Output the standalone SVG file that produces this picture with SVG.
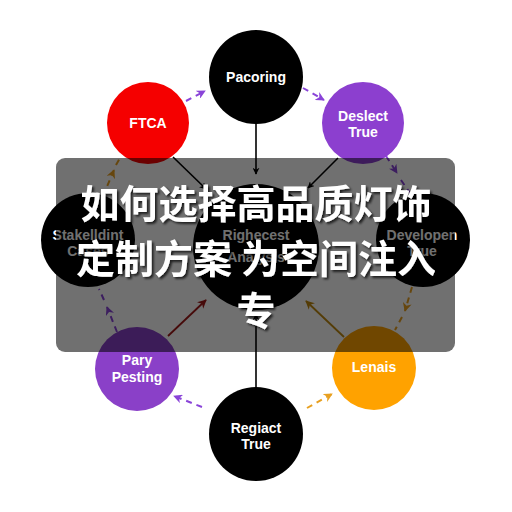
<svg xmlns="http://www.w3.org/2000/svg" width="512" height="512" viewBox="0 0 512 512">
<defs>
<style>
.lbl{font-family:"Liberation Sans","DejaVu Sans",sans-serif;font-weight:bold;font-size:14px;fill:#ffffff;text-anchor:middle}
.solid{stroke:#000;stroke-width:1.6;fill:none}
.dp{stroke:#8a44d8;stroke-width:2;stroke-dasharray:6 5;fill:none}
.dg{stroke:#e8a020;stroke-width:2;stroke-dasharray:6 5;fill:none}
.title{font-family:"Noto Sans CJK SC","Noto Sans",sans-serif;font-weight:bold;font-size:39px;fill:#ffffff;text-anchor:middle}
</style>
<marker id="aBlack" viewBox="0 0 10 10" refX="9" refY="5" markerWidth="7" markerHeight="7" orient="auto" markerUnits="userSpaceOnUse"><path d="M0,0 L10,5 L0,10 L3,5 z" fill="#000"/></marker>
<marker id="aRed" viewBox="0 0 10 10" refX="9" refY="5" markerWidth="9" markerHeight="9" orient="auto" markerUnits="userSpaceOnUse"><path d="M0,0 L10,5 L0,10 L3,5 z" fill="#a01818"/></marker>
<marker id="aGold" viewBox="0 0 10 10" refX="9" refY="5" markerWidth="9" markerHeight="9" orient="auto" markerUnits="userSpaceOnUse"><path d="M0,0 L10,5 L0,10 L3,5 z" fill="#c08a10"/></marker>
<marker id="aP" viewBox="0 0 10 10" refX="9" refY="5" markerWidth="9" markerHeight="9" orient="auto" markerUnits="userSpaceOnUse"><path d="M0,0 L10,5 L0,10 L3,5 z" fill="#8a44d8"/></marker>
<marker id="aO" viewBox="0 0 10 10" refX="9" refY="5" markerWidth="9" markerHeight="9" orient="auto" markerUnits="userSpaceOnUse"><path d="M0,0 L10,5 L0,10 L3,5 z" fill="#e8a020"/></marker>
<filter id="sh" x="-10%" y="-20%" width="120%" height="150%"><feDropShadow dx="2" dy="2" stdDeviation="1" flood-color="#000" flood-opacity="0.7"/></filter>
</defs>
<rect width="512" height="512" fill="#ffffff"/>
<g id="connectors">
<line class="solid" x1="256" y1="124" x2="256" y2="174" marker-end="url(#aBlack)"/>
<line class="solid" x1="173" y1="157" x2="206" y2="189" marker-end="url(#aBlack)"/>
<line class="solid" x1="338" y1="158" x2="308" y2="188" marker-end="url(#aBlack)"/>
<line class="solid" x1="256" y1="387" x2="256" y2="314" marker-end="url(#aBlack)"/>
<line x1="168" y1="336" x2="206" y2="300" stroke="#a01818" stroke-width="1.8" marker-end="url(#aRed)"/>
<line x1="344" y1="337" x2="306" y2="301" stroke="#c08a10" stroke-width="1.8" marker-end="url(#aGold)"/>
<line class="dp" x1="186" y1="101" x2="205" y2="91" marker-end="url(#aP)"/>
<line class="dp" x1="303" y1="88" x2="324" y2="100" marker-end="url(#aP)"/>
<line class="dp" x1="386" y1="156" x2="397" y2="173" marker-end="url(#aP)"/>
<line class="dp" x1="401" y1="180" x2="412" y2="196" stroke-dasharray="5 5"/>
<line class="dg" x1="412" y1="287" x2="405" y2="311" marker-end="url(#aO)"/>
<line class="dg" x1="402" y1="317" x2="395" y2="330" stroke-dasharray="5 5"/>
<line class="dg" x1="307" y1="408" x2="332" y2="394" marker-end="url(#aO)"/>
<line class="dp" x1="202" y1="407" x2="174" y2="396" marker-end="url(#aP)"/>
<line class="dp" x1="117" y1="332" x2="107" y2="307" marker-end="url(#aP)"/>
<line class="dp" x1="104" y1="300" x2="99" y2="289" stroke-dasharray="5 5"/>
<line class="dg" x1="103" y1="196" x2="114" y2="170" marker-end="url(#aO)"/>
<line class="dg" x1="116" y1="165" x2="120" y2="158" stroke-dasharray="4 4"/>
</g>
<g id="n-pacoring"><circle cx="256" cy="77" r="47" fill="#000"/><text class="lbl" x="256" y="82">Pacoring</text></g>
<g id="n-ftca"><circle cx="148" cy="123" r="41" fill="#f50000"/><text class="lbl" x="148" y="128">FTCA</text></g>
<g id="n-deslect"><circle cx="363" cy="123" r="41" fill="#8c3fcf"/><text class="lbl" x="363" y="121">Deslect</text><text class="lbl" x="363" y="137">True</text></g>
<g id="n-stake"><circle cx="88" cy="240" r="47" fill="#000"/><text class="lbl" x="88" y="240">Stakelldint</text><text class="lbl" x="88" y="256">Cases</text></g>
<g id="n-center"><circle cx="256" cy="247" r="63" fill="#000"/><text class="lbl" x="256" y="240">Righecest</text><text class="lbl" x="256" y="262">Analysis</text></g>
<g id="n-developen"><circle cx="423" cy="240" r="47" fill="#000"/><text class="lbl" x="422" y="240">Developen</text><text class="lbl" x="422" y="256">True</text></g>
<g id="n-pary"><circle cx="137" cy="369" r="42" fill="#8a40c8"/><text class="lbl" x="137" y="365">Pary</text><text class="lbl" x="137" y="382">Pesting</text></g>
<g id="n-lenais"><circle cx="374" cy="368" r="42" fill="#ffa200"/><text class="lbl" x="374" y="372">Lenais</text></g>
<g id="n-regiact"><circle cx="256" cy="434" r="47" fill="#000"/><text class="lbl" x="256" y="433">Regiact</text><text class="lbl" x="256" y="449">True</text></g>
<g id="overlay">
<rect x="56" y="158" width="399" height="194" rx="9" fill="#000" fill-opacity="0.56"/>
<g filter="url(#sh)">
<text class="title" x="256" y="218">如何选择高品质灯饰</text>
<text class="title" x="256" y="273">定制方案 为空间注入</text>
<text class="title" x="256" y="325">专</text>
</g>
</g>
</svg>
